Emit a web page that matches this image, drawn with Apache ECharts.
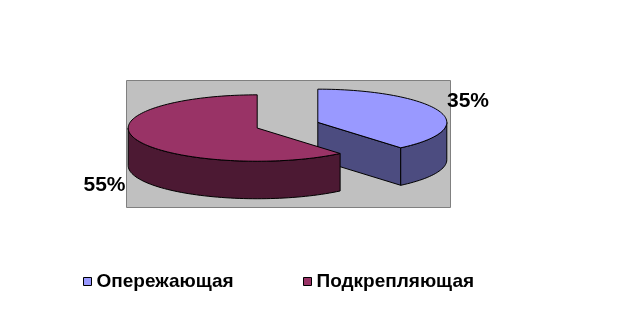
<!DOCTYPE html>
<html><head><meta charset="utf-8">
<script src="https://cdn.jsdelivr.net/npm/echarts@6/dist/echarts.min.js"></script>
<style>html,body{margin:0;padding:0;background:#fff}#c{width:617px;height:325px}</style>
</head><body><div id="c"></div>
<script>
// ---- data ----
const categories = ['Опережающая', 'Подкрепляющая'];
const values = [35, 55];
const labelSuffix = '%';

// ---- styles / layout ----
const topColors = ['#9999FF', '#993366'];
const sideColors = ['#4C4C80', '#4C1933'];
const FONT = '"Liberation Sans", Arial, sans-serif';
const geo = { cx: 287.5, cy: 125.2, rx: 129, ry: 33.2, depth: 37.5, explode: 0.25, startAngle: 90 };
const labelPos = [[468, 101], [104.5, 185]];

const total = values.reduce((a, b) => a + b, 0);
const RAD = Math.PI / 180;

function makeRender(i) {
  return function (params, api) {
    const v = api.value(0);
    let before = 0;
    for (let k = 0; k < i; k++) before += values[k];
    const a0 = geo.startAngle - before / total * 360;
    const a1 = a0 - v / total * 360;
    const mid = (a0 + a1) / 2 * RAD;
    const cx = geo.cx + geo.rx * geo.explode * Math.cos(mid);
    const cy = geo.cy - geo.ry * geo.explode * Math.sin(mid);
    const d = geo.depth;
    const pt = (deg, dz) => [cx + geo.rx * Math.cos(deg * RAD), cy - geo.ry * Math.sin(deg * RAD) + (dz || 0)];
    const arc = (from, to, dz) => {
      const pts = [];
      const n = Math.max(2, Math.ceil(Math.abs(to - from) / 2));
      for (let j = 0; j <= n; j++) pts.push(pt(from + (to - from) * j / n, dz));
      return pts;
    };
    const stroke = { stroke: '#000', lineWidth: 1 };
    const children = [];
    const radial = (ang) => ({
      type: 'polygon',
      shape: { points: [[cx, cy], pt(ang), pt(ang, d), [cx, cy + d]] },
      style: Object.assign({ fill: sideColors[i] }, stroke)
    });
    if (Math.cos(a0 * RAD) < -1e-6) children.push(radial(a0));
    if (Math.cos(a1 * RAD) > 1e-6) children.push(radial(a1));
    for (let k = -2; k <= 2; k++) {
      const lo = Math.max(a1, -180 + 360 * k), hi = Math.min(a0, 360 * k);
      if (hi - lo > 1e-6) {
        const top = arc(hi, lo, 0), bot = arc(lo, hi, d);
        children.push({
          type: 'polygon',
          shape: { points: top.concat(bot) },
          style: Object.assign({ fill: sideColors[i] }, stroke)
        });
      }
    }
    children.push({
      type: 'polygon',
      shape: { points: [[cx, cy]].concat(arc(a0, a1, 0)) },
      style: Object.assign({ fill: topColors[i] }, stroke)
    });
    children.push({
      type: 'text',
      x: labelPos[i][0], y: labelPos[i][1],
      style: { text: v + labelSuffix, font: 'bold 21px ' + FONT, fill: '#000', align: 'center', verticalAlign: 'middle' }
    });
    return { type: 'group', children };
  };
}

const legendBase = {
  top: 272, padding: 0, icon: 'rect', itemWidth: 8, itemHeight: 8,
  itemStyle: { borderColor: '#000', borderWidth: 1 },
  textStyle: { fontWeight: 'bold', fontSize: 19, color: '#000', fontFamily: FONT }
};

const chart = echarts.init(document.getElementById('c'), null, { renderer: 'canvas' });
chart.setOption({
  animation: false,
  backgroundColor: '#fff',
  graphic: [{
    type: 'rect', z: -10, silent: true,
    shape: { x: 126.5, y: 80.5, width: 324, height: 127 },
    style: { fill: '#C0C0C0', stroke: '#808080', lineWidth: 1 }
  }],
  legend: [
    Object.assign({ left: 83, data: [categories[0]] }, legendBase),
    Object.assign({ left: 303, data: [categories[1]] }, legendBase)
  ],
  series: categories.map((name, i) => ({
    type: 'custom',
    name: name,
    coordinateSystem: 'none',
    itemStyle: { color: topColors[i] },
    renderItem: makeRender(i),
    data: [[values[i]]]
  }))
});
</script></body></html>
